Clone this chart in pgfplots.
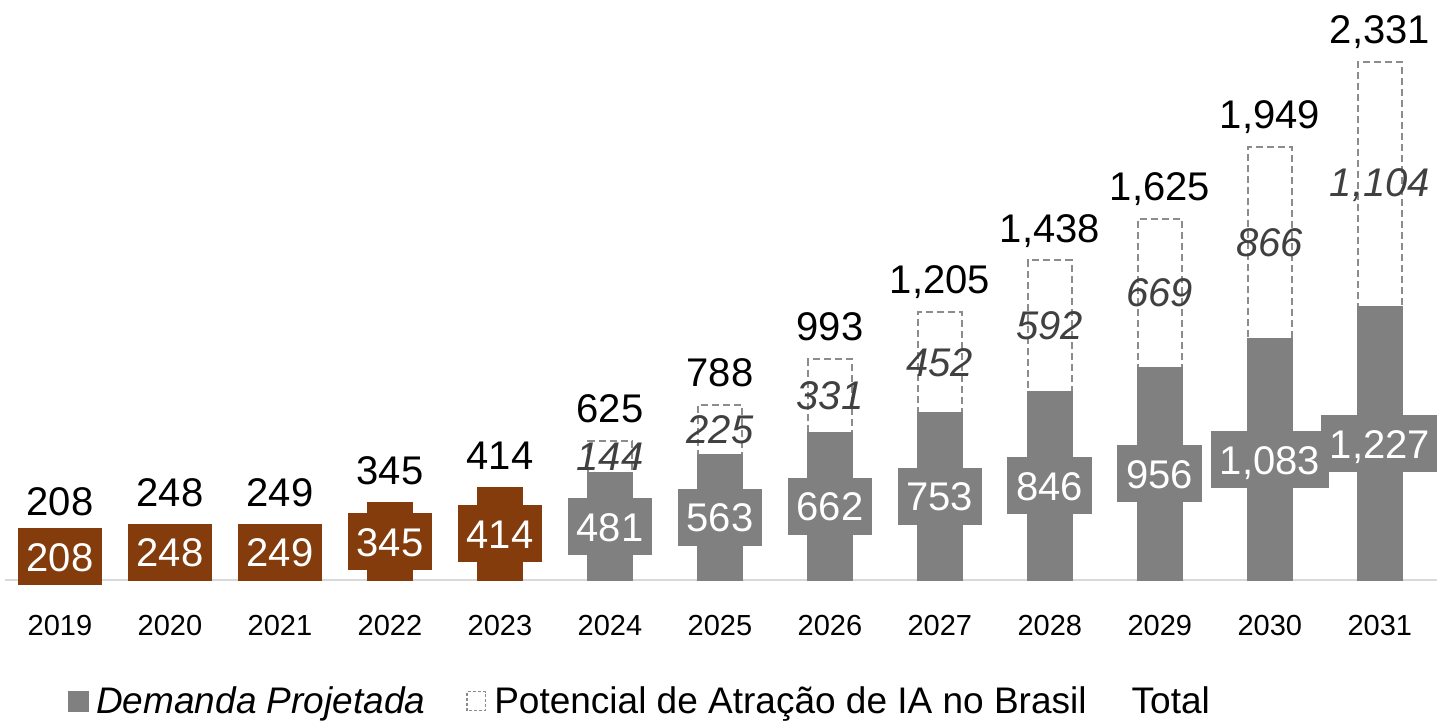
\documentclass[border=0pt]{standalone}
\usepackage{pgfplots}
\pgfplotsset{compat=1.18}
\usepackage{pgfplotstable}
\usepackage{fontspec}
\setmainfont{Liberation Sans}
\definecolor{brownbar}{HTML}{843C0C}
\definecolor{graybar}{HTML}{808080}
\definecolor{dashgray}{HTML}{8C8C8C}
\definecolor{potlab}{HTML}{404040}
\definecolor{axisgray}{HTML}{D9D9D9}

\pgfplotstableread{
x val
0 208
1 248
2 249
3 345
4 414
}\hist
\pgfplotstableread{
x proj pot total
5 481 144 625
6 563 225 788
7 662 331 993
8 753 452 1205
9 846 592 1438
10 956 669 1625
11 1083 866 1949
12 1227 1104 2331
}\proj

\pgfplotsset{
  numlab/.style={forget plot, draw=none, mark=none, point meta=explicit,
    nodes near coords={\pgfmathprintnumber[fixed,precision=0,1000 sep={,},assume math mode=true]{\pgfplotspointmeta}}},
  boxlab/.style={numlab, nodes near coords align={center},
    every node near coord/.append style={anchor=center, fill=#1, text=white,
      font=\fontsize{20}{24}\selectfont, inner xsep=4.5pt, inner ysep=7pt,
      text height=14.5pt, text depth=0pt}},
  potlabel/.style={numlab, nodes near coords align={center},
    every node near coord/.append style={anchor=center, text=potlab,
      font=\fontsize{20}{24}\selectfont\itshape, inner sep=0pt}},
  totlabel/.style={numlab, nodes near coords align={south},
    every node near coord/.append style={anchor=south, text=black, yshift=9pt,
      font=\fontsize{20}{24}\selectfont, inner sep=0pt, text depth=0pt}},
}

\begin{document}
\begin{tikzpicture}
\useasboundingbox (0,0) rectangle (718.5pt,360.5pt);
\begin{axis}[
  at={(2.5pt,70.5pt)}, anchor=south west,
  width=716pt, height=290pt, scale only axis,
  xmin=-0.5, xmax=12.52, ymin=0, ymax=2610,
  axis y line=none, axis x line=bottom,
  x axis line style={draw=axisgray, line width=1pt, -},
  xtick={0,...,12},
  xticklabels={2019,2020,2021,2022,2023,2024,2025,2026,2027,2028,2029,2030,2031},
  major tick length=0pt,
  xticklabel style={font=\fontsize{14.5}{17}\selectfont, anchor=north, yshift=-14.2pt},
  clip=false,
  legend columns=3,
  legend style={at={(0.444,-0.209)}, anchor=center, draw=none, fill=none,
    font=\fontsize{18.5}{22}\selectfont,
    /tikz/every even column/.append style={column sep=18.5pt},
    cells={anchor=west}},
]
% dashed potential boxes (from 0 to total, lower part covered)
\addplot[forget plot, ybar, bar width=22pt, bar shift=0pt, fill=white,
  draw=dashgray, line width=1pt, dash pattern=on 3.5pt off 2pt]
  table[x=x, y=total] {\proj};
% projected demand bars
\addplot[forget plot, ybar, bar width=22pt, bar shift=0pt, fill=graybar,
  draw=graybar, line width=1pt]
  table[x=x, y=proj] {\proj};
% historical bars
\addplot[forget plot, ybar, bar width=22pt, bar shift=0pt, fill=brownbar,
  draw=brownbar, line width=1pt]
  table[x=x, y=val] {\hist};
% labels
\addplot[boxlab=brownbar] table[x=x, y expr=\thisrow{val}/2, meta=val] {\hist};
\addplot[boxlab=graybar] table[x=x, y expr=\thisrow{proj}/2, meta=proj] {\proj};
\addplot[potlabel] table[x=x, y expr=(\thisrow{proj}+\thisrow{total})/2, meta=pot] {\proj};
\addplot[totlabel] table[x=x, y=val, meta=val] {\hist};
\addplot[totlabel] table[x=x, y=total, meta=total] {\proj};
% legend
\addlegendimage{legend image code/.code={\fill[graybar] (0pt,-5pt) rectangle (10pt,5pt); \path[draw=none,fill=none] (0pt,0pt) -- (12pt,0pt);}}
\addlegendentry{\textit{Demanda Projetada}}
\addlegendimage{legend image code/.code={\draw[dashgray, line width=0.6pt, dash pattern=on 1.5pt off 1pt] (0.3pt,-4.7pt) rectangle (9.7pt,4.7pt); \path[draw=none,fill=none] (0pt,0pt) -- (12pt,0pt);}}
\addlegendentry{Potencial de Atração de IA no Brasil}
\addlegendimage{legend image code/.code={}}
\addlegendentry{Total}
\end{axis}
\end{tikzpicture}
\end{document}
